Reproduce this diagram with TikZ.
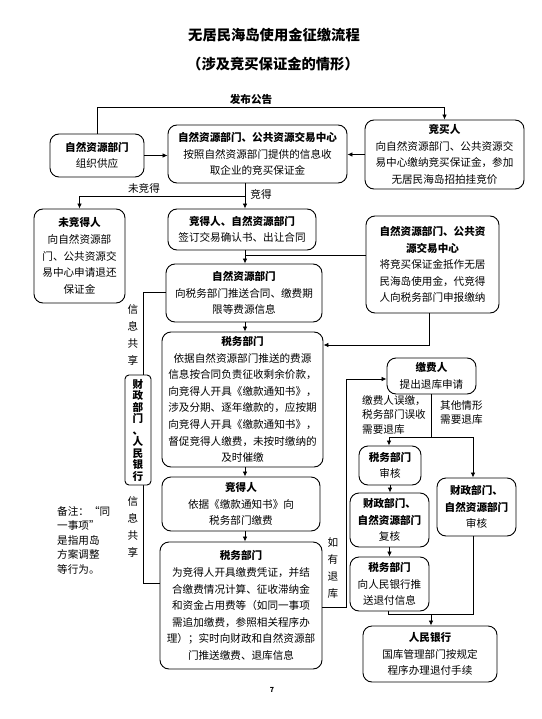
\documentclass[tikz,border=0pt]{standalone}
\usepackage{fontspec}
\setmainfont{Noto Sans CJK SC}
\usetikzlibrary{arrows.meta}
\tikzset{
  box/.style={draw, line width=0.9pt, rounded corners=9pt, align=center, inner sep=0pt,
    fill=white, font=\fontsize{10.6}{16.6}\selectfont},
  arr/.style={line width=0.8pt, -{Latex[length=5pt,width=4.5pt]}},
  ln/.style={line width=0.8pt},
  lbl/.style={inner sep=0pt, align=left, font=\fontsize{10.6}{14.6}\selectfont},
  vlbl/.style={inner sep=0pt, align=center, font=\fontsize{10.6}{16.7}\selectfont},
}
\newcommand\bx[6]{\node[box, minimum width={(#4-#2)*1pt}, minimum height={(#5-#3)*1pt}] (#1) at ({(#2+#4)/2},{(#3+#5)/2}) {#6};}
\begin{document}
\begin{tikzpicture}[x=1pt,y=-1pt]
\useasboundingbox (0,0) rectangle (541,719);
\fill[white] (0,0) rectangle (541,719);

% titles
\node[font=\fontsize{14.3}{16}\selectfont\bfseries, inner sep=0pt] (title) at (274,35) {无居民海岛使用金征缴流程};
\node[font=\fontsize{14.3}{16}\selectfont\bfseries, inner sep=0pt] (subtitle) at (273,64) {（涉及竞买保证金的情形）};

% boxes
\bx{A}{50}{134}{144}{177}{\textbf{自然资源部门}\\组织供应}
\bx{B}{168}{125}{347}{183}{\textbf{自然资源部门、公共资源交易中心}\\按照自然资源部门提供的信息收\\取企业的竞买保证金}
\bx{C}{365}{120}{524}{189}{\textbf{竞买人}\\向自然资源部门、公共资源交\\易中心缴纳竞买保证金，参加\\无居民海岛招拍挂竞价}
\bx{D}{34}{209}{125}{303}{\textbf{未竞得人}\\向自然资源部\\门、公共资源交\\易中心申请退还\\保证金}
\bx{E}{168}{209}{316}{250}{\textbf{竞得人、自然资源部门}\\签订交易确认书、出让合同}
\bx{F}{366}{216}{499}{313}{\textbf{自然资源部门、公共资}\\\textbf{源交易中心}\\将竞买保证金抵作无居\\民海岛使用金，代竞得\\人向税务部门申报缴纳}
\bx{G}{166}{264}{322}{322}{\textbf{自然资源部门}\\向税务部门推送合同、缴费期\\限等费源信息}
\bx{H}{162}{332}{323}{467}{\textbf{税务部门}\\依据自然资源部门推送的费源\\信息按合同负责征收剩余价款，\\向竞得人开具《缴款通知书》，\\涉及分期、逐年缴款的，应按期\\向竞得人开具《缴款通知书》，\\督促竞得人缴费，未按时缴纳的\\及时催缴}
\bx{I}{162}{477}{320}{531}{\textbf{竞得人}\\依据《缴款通知书》向\\税务部门缴费}
\bx{J}{160}{542}{322}{669}{\textbf{税务部门}\\为竞得人开具缴费凭证，并结\\合缴费情况计算、征收滞纳金\\和资金占用费等（如同一事项\\需追加缴费，参照相关程序办\\理）；实时向财政和自然资源部\\门推送缴费、退库信息}
\bx{K}{387}{358}{476}{394}{\textbf{缴费人}\\提出退库申请}
\bx{L}{359}{446}{421}{485}{\textbf{税务部门}\\审核}
\bx{M}{350}{493}{429}{547}{\textbf{财政部门、}\\\textbf{自然资源部门}\\复核}
\bx{N}{350}{557}{429}{611}{\textbf{税务部门}\\向人民银行推\\送退付信息}
\bx{O}{437}{478}{516}{536}{\textbf{财政部门、}\\\textbf{自然资源部门}\\审核}
\bx{P}{363}{626}{497}{682}{\textbf{人民银行}\\国库管理部门按规定\\程序办理退付手续}

% coordinates
\coordinate (top) at (96,107);
\coordinate (br) at (245,196);
\coordinate (j) at (245,255);
\coordinate (fh) at (429,345);
\coordinate (lt) at (143,292);
\coordinate (lb) at (143,583);
\coordinate (jk1) at (346,607);
\coordinate (jk2) at (346,379);
\coordinate (ks) at (431,437);
\coordinate (kl) at (389,437);
\coordinate (kr) at (473,437);
\coordinate (nb) at (388,614);
\coordinate (ob) at (473,614);
\coordinate (pm) at (431,614);

% top connectors
\draw[arr] (A.north) -- (A.north |- top) -| (C.north);
\node[font=\fontsize{10.6}{12}\selectfont\bfseries, inner sep=0pt] (pub) at (251,99) {发布公告};
\draw[arr] (A.east) -- (A.east -| B.west);
\draw[arr] (C.west) -- (C.west -| B.east);

% branch
\draw[ln] (B.south -| br) -- (br);
\draw[arr] (br) -- (br |- E.north);
\draw[arr] (br) -| (D.north);
\node[lbl] (nwin) at (144,188) {未竞得};
\node[lbl] (win) at (261,194) {竞得};

% center column
\draw[arr] (E.south -| br) -- (G.north -| br);
\draw[ln] (F.west |- j) -- (j);
\draw[arr] (G.south -| br) -- (H.north -| br);
\draw[arr] (H.south -| br) -- (I.north -| br);
\draw[arr] (I.south -| br) -- (J.north -| br);
\draw[arr] (F.south -| fh) -- (fh) -- (fh -| H.east);

% left information sharing
\draw[ln] (G.west |- lt) -- (lt) -- (lb) -- (J.west |- lb);
\node[draw, line width=0.9pt, rounded corners=4pt, fill=white, inner sep=0pt,
  minimum width=26pt, minimum height=110pt, align=center,
  font=\fontsize{10.6}{11.5}\selectfont\bfseries] (Q) at (138,430)
  {财\\政\\部\\门\\、\\人\\民\\银\\行};
\node[vlbl] (s1) at (133,335) {信\\息\\共\\享};
\node[vlbl] (s2) at (133,527) {信\\息\\共\\享};
\node[lbl, anchor=north west] (note) at (57,506) {备注：“同\\一事项”\\是指用岛\\方案调整\\等行为。};

% refund path
\draw[arr] (J.east |- jk1) -- (jk1) -- (jk2) -- (K.west |- jk2);
\node[vlbl] (rf) at (333,568) {如\\有\\退\\库};
\draw[ln] (K.south -| ks) -- (ks);
\draw[ln] (kl) -- (kr);
\draw[arr] (kl) -- (L.north -| kl);
\draw[arr] (kr) -- (O.north -| kr);
\node[lbl, anchor=north west] (c1) at (362,395) {缴费人误缴，\\税务部门误收\\需要退库};
\node[lbl, anchor=north west] (c2) at (440,400) {其他情形\\需要退库};
\draw[arr] (L.south) -- (L.south |- M.north);
\draw[arr] (M.south) -- (M.south |- N.north);
\draw[ln] (N.south -| nb) -- (nb) -- (ob) -- (O.south -| ob);
\draw[arr] (pm) -- (P.north -| pm);

% page number
\node[font=\fontsize{7}{8}\selectfont\bfseries, inner sep=0pt] (pg) at (272,690) {7};
\end{tikzpicture}
\end{document}
